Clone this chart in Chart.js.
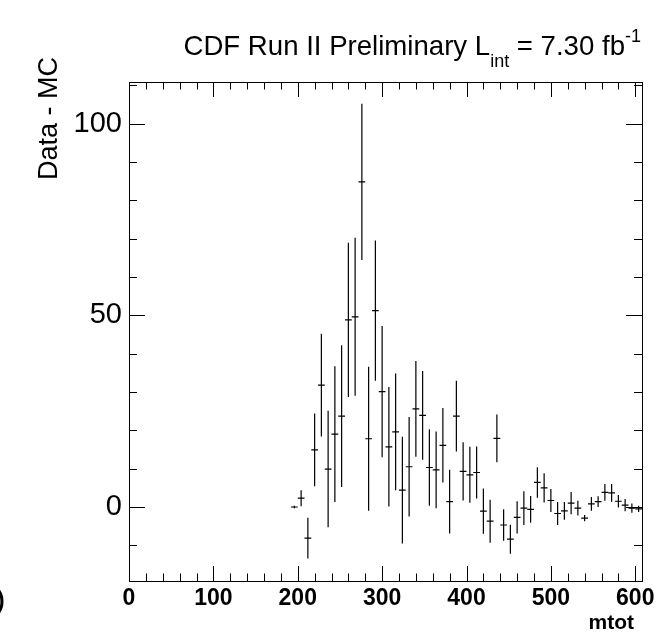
<!DOCTYPE html>
<html>
<head>
<meta charset="utf-8">
<title>CDF Run II - Data minus MC</title>
<script src="https://cdn.jsdelivr.net/npm/chart.js@4.4.1/dist/chart.umd.min.js"></script>
<style>
  html, body { margin: 0; padding: 0; background: #fff; }
  #wrap { width: 659px; height: 634px; }
</style>
</head>
<body>
<div id="wrap"><canvas id="grafico" width="659" height="634"></canvas></div>
<script>
/* ===== dados (bins de 8 em mtot) ===== */
const binCenters = [196, 204, 212, 220, 228, 236, 244, 252, 260, 268, 276, 284, 292,
  300, 308, 316, 324, 332, 340, 348, 356, 364, 372, 380, 388, 396, 404, 412, 420,
  428, 436, 444, 452, 460, 468, 476, 484, 492, 500, 508, 516, 524, 532, 540, 548,
  556, 564, 572, 580, 588, 596, 604];
const diffValues = [0.0, 2.3, -8.1, 14.9, 31.8, 9.9, 19.0, 23.7, 48.8, 49.6, 84.8, 17.8, 51.2,
  30.1, 15.7, 19.6, 4.4, 10.5, 25.6, 23.9, 10.3, 9.7, 16.1, 1.4, 23.7, 9.3, 8.4, 9.0, -1.1,
  -3.7, 17.9, -4.7, -8.4, -2.7, -0.3, -0.6, 6.4, 5.0, 1.7, -1.7, -1.0, 1.0, -0.3, -2.9, 0.8,
  1.4, 3.8, 3.7, 1.5, 0.5, -0.3, -0.5];
const diffErrors = [0.3, 2.1, 5.3, 9.5, 13.4, 15.2, 17.7, 18.5, 20.1, 20.6, 20.4, 18.8, 18.3,
  17.1, 15.6, 15.2, 13.9, 13.0, 12.5, 11.6, 10.0, 10.0, 9.7, 8.3, 9.2, 7.6, 7.3, 6.8, 5.9,
  5.6, 6.2, 4.1, 3.8, 4.2, 4.4, 3.5, 4.0, 3.8, 3.0, 3.0, 2.3, 2.9, 1.9, 0.8, 1.8,
  1.4, 2.2, 2.3, 1.6, 1.6, 1.2, 0.8];
const binWidth = 8;

const xTickValues = [0, 100, 200, 300, 400, 500, 600];
const yTickValues = [0, 50, 100];

const FONTE = "'Liberation Sans', Arial, Helvetica, sans-serif";

/* ===== barras de erro (estilo ROOT) ===== */
const barrasErro = {
  id: "barrasErro",
  afterDatasetsDraw(chart) {
    const { ctx, scales: { x, y } } = chart;
    ctx.save();
    ctx.strokeStyle = "#000";
    ctx.lineWidth = 1.2;
    binCenters.forEach((c, i) => {
      const px = x.getPixelForValue(c);
      const py = y.getPixelForValue(diffValues[i]);
      const yTop = y.getPixelForValue(diffValues[i] + diffErrors[i]);
      const yBot = y.getPixelForValue(diffValues[i] - diffErrors[i]);
      ctx.beginPath();
      ctx.moveTo(x.getPixelForValue(c - binWidth / 2), py);
      ctx.lineTo(x.getPixelForValue(c + binWidth / 2), py);
      ctx.moveTo(px, yTop);
      ctx.lineTo(px, yBot);
      ctx.stroke();
    });
    ctx.restore();
  }
};

/* ===== moldura com ticks para dentro + textos ===== */
const moldura = {
  id: "moldura",
  afterDraw(chart) {
    const { ctx, chartArea: a, scales: { x, y } } = chart;
    ctx.save();
    ctx.strokeStyle = "#000";
    ctx.lineWidth = 1;
    ctx.strokeRect(a.left + 0.5, a.top + 0.5, a.right - a.left, a.bottom - a.top);

    ctx.beginPath();
    for (let v = 0; v <= x.max; v += 20) {
      const px = Math.round(x.getPixelForValue(v)) + 0.5;
      const len = v % 100 === 0 ? 15 : 7.5;
      ctx.moveTo(px, a.bottom); ctx.lineTo(px, a.bottom - len);
      ctx.moveTo(px, a.top); ctx.lineTo(px, a.top + len);
    }
    for (let v = -10; v <= y.max; v += 10) {
      const py = Math.round(y.getPixelForValue(v)) + 0.5;
      const len = v % 50 === 0 ? 16 : 8;
      ctx.moveTo(a.left, py); ctx.lineTo(a.left + len, py);
      ctx.moveTo(a.right, py); ctx.lineTo(a.right - len, py);
    }
    ctx.stroke();

    // titulo
    ctx.fillStyle = "#000";
    ctx.textBaseline = "alphabetic";
    const f = 27.6, fs = 18;
    const partes = [
      { t: "CDF Run II Preliminary L", s: f, dy: 0 },
      { t: "int", s: fs, dy: 12 },
      { t: " = 7.30 fb", s: f, dy: 0 },
      { t: "-1", s: fs, dy: -13 }
    ];
    let total = 0;
    partes.forEach(p => { ctx.font = `${p.s}px ${FONTE}`; p.w = ctx.measureText(p.t).width; total += p.w; });
    let cx = 641 - total;
    partes.forEach(p => {
      ctx.font = `${p.s}px ${FONTE}`;
      ctx.fillText(p.t, cx, 55 + p.dy);
      cx += p.w;
    });

    // eixo y
    ctx.save();
    ctx.translate(57, 57);
    ctx.rotate(-Math.PI / 2);
    ctx.font = `27px ${FONTE}`;
    ctx.textAlign = "right";
    ctx.fillText("Data - MC", 0, 0);
    ctx.restore();

    // eixo x
    ctx.font = `bold 21px ${FONTE}`;
    ctx.textAlign = "right";
    ctx.fillText("mtot", 634, 629);

    ctx.textAlign = "left";
    ctx.font = `bold 23px ${FONTE}`;
    ctx.fillText(")", -3, 608);
    ctx.restore();
  }
};

new Chart(document.getElementById("grafico"), {
  type: "scatter",
  data: {
    datasets: [{
      label: "Data - MC",
      data: binCenters.map((c, i) => ({ x: c, y: diffValues[i] })),
      pointRadius: 0,
      showLine: false
    }]
  },
  options: {
    responsive: false,
    animation: false,
    layout: { padding: { top: 82, right: 17, left: 0, bottom: 0 } },
    plugins: { legend: { display: false }, tooltip: { enabled: false } },
    scales: {
      x: {
        type: "linear",
        min: 0,
        max: 608,
        grid: { display: false, drawTicks: false },
        border: { display: false },
        afterBuildTicks: s => { s.ticks = xTickValues.map(v => ({ value: v })); },
        afterFit: s => { s.height = 53; s.paddingLeft = 0; s.paddingRight = 0; },
        ticks: {
          autoSkip: false,
          maxRotation: 0,
          padding: 4,
          color: "#000",
          font: { family: FONTE, size: 23, weight: "bold" }
        }
      },
      y: {
        type: "linear",
        min: -19.3,
        max: 110.85,
        grid: { display: false, drawTicks: false },
        border: { display: false },
        afterBuildTicks: s => { s.ticks = yTickValues.map(v => ({ value: v })); },
        afterFit: s => { s.width = 129; s.paddingTop = 0; s.paddingBottom = 0; },
        ticks: {
          autoSkip: false,
          padding: 7,
          color: "#000",
          font: { family: FONTE, size: 29 }
        }
      }
    }
  },
  plugins: [barrasErro, moldura]
});
</script>
</body>
</html>
